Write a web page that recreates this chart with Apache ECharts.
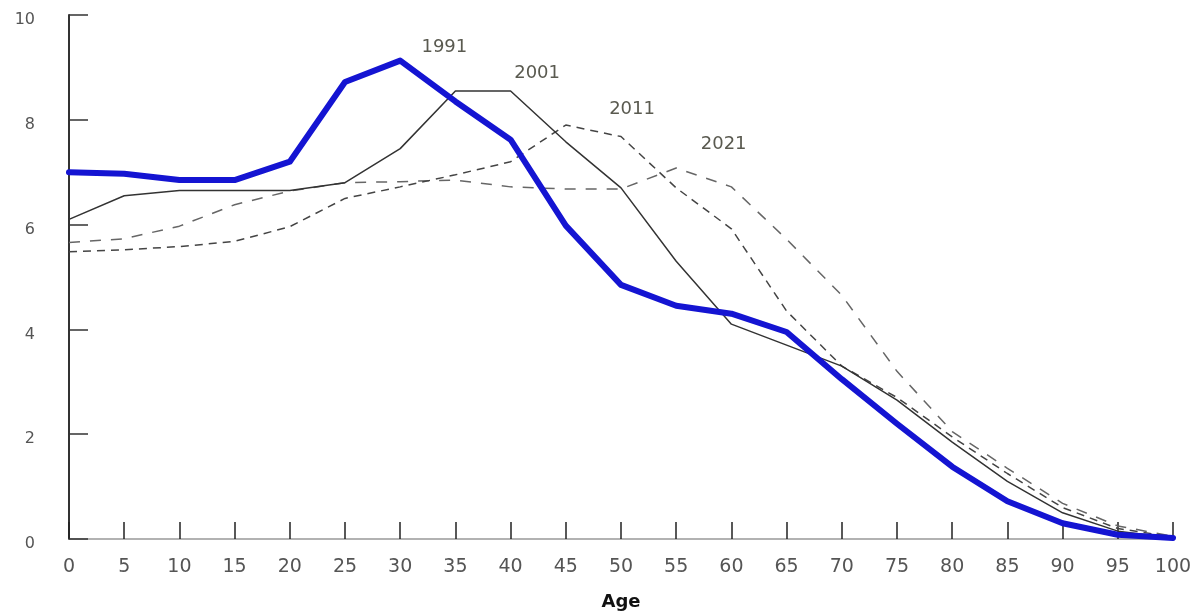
<!DOCTYPE html>
<html>
<head>
<meta charset="utf-8">
<script src="https://cdn.jsdelivr.net/npm/echarts@6/dist/echarts.min.js"></script>
<style>
html,body{margin:0;padding:0;background:#fff;}
#chart{width:1199px;height:616px;}
</style>
</head>
<body>
<div id="chart"></div>
<script>
const ages = [0,5,10,15,20,25,30,35,40,45,50,55,60,65,70,75,80,85,90,95,100];
const xTicks = [0,5,10,15,20,25,30,35,40,45,50,55,60,65,70,75,80,85,90,95,100];
const yTicks = [0,2,4,6,8,10];

const y1991 = [7.0,6.97,6.85,6.85,7.2,8.72,9.13,8.35,7.62,5.98,4.85,4.45,4.3,3.95,3.05,2.2,1.38,0.72,0.3,0.08,0.02];
const y2001 = [6.1,6.55,6.65,6.65,6.65,6.8,7.45,8.55,8.55,7.58,6.7,5.3,4.1,3.7,3.3,2.65,1.85,1.1,0.5,0.15,0.02];
const y2011 = [5.48,5.52,5.58,5.68,5.96,6.5,6.72,6.95,7.2,7.9,7.68,6.7,5.92,4.35,3.3,2.7,1.95,1.25,0.6,0.2,0.04];
const y2021 = [5.66,5.73,5.97,6.38,6.64,6.8,6.82,6.85,6.72,6.68,6.68,7.08,6.72,5.72,4.65,3.2,2.05,1.35,0.68,0.25,0.05];

const seriesNames = ['1991','2001','2011','2021'];
const labelAnchors = [[34.0,9.38],[42.4,8.89],[51.0,8.2],[59.3,7.54]];

const pairs = v => ages.map((a,i)=>[a, v[i]]);

const chart = echarts.init(document.getElementById('chart'));
const labelStyle = {color:'#5a5a50', fontSize:18, fontFamily:'DejaVu Sans'};

function mk(i){
  return {
    symbol:'circle', symbolSize:0,
    label:Object.assign({show:true, position:'inside', formatter:seriesNames[i]}, labelStyle),
    itemStyle:{color:'transparent'},
    data:[{coord:labelAnchors[i]}]
  };
}

chart.setOption({
  animation:false,
  backgroundColor:'#fff',
  grid:{left:69, right:26, top:15, bottom:75},
  xAxis:{
    type:'value', min:0, max:100, interval:5,
    name:'Age', nameLocation:'middle', nameGap:54,
    nameTextStyle:{fontWeight:'bold', fontSize:18, color:'#111', fontFamily:'DejaVu Sans'},
    axisLine:{show:true, onZero:false, lineStyle:{color:'#999', width:1.5}},
    axisTick:{show:true, inside:true, length:17, lineStyle:{color:'#222', width:1.5}},
    axisLabel:{margin:19, fontSize:19, color:'#555', fontFamily:'DejaVu Sans',
      customValues: xTicks},
    splitLine:{show:false}
  },
  yAxis:{
    type:'value', min:0, max:10, interval:2,
    axisLine:{show:true, lineStyle:{color:'#333', width:2}},
    axisTick:{show:true, inside:true, length:19, lineStyle:{color:'#333', width:1.5}},
    axisLabel:{margin:34, fontSize:16, color:'#555', fontFamily:'DejaVu Sans',
      verticalAlign:'top', lineHeight:10, customValues: yTicks},
    splitLine:{show:false}
  },
  series:[
    {name:'2021', type:'line', data:pairs(y2021), symbol:'none',
     lineStyle:{color:'#666', width:1.5, type:[11,10]}, markPoint:mk(3), z:2},
    {name:'2011', type:'line', data:pairs(y2011), symbol:'none',
     lineStyle:{color:'#444', width:1.5, type:[8,6]}, markPoint:mk(2), z:3},
    {name:'2001', type:'line', data:pairs(y2001), symbol:'none',
     lineStyle:{color:'#333', width:1.5}, markPoint:mk(1), z:4},
    {name:'1991', type:'line', data:pairs(y1991), symbol:'none',
     lineStyle:{color:'#1414d2', width:6, join:'round', cap:'round'}, markPoint:mk(0), z:5}
  ]
});
</script>
</body>
</html>
